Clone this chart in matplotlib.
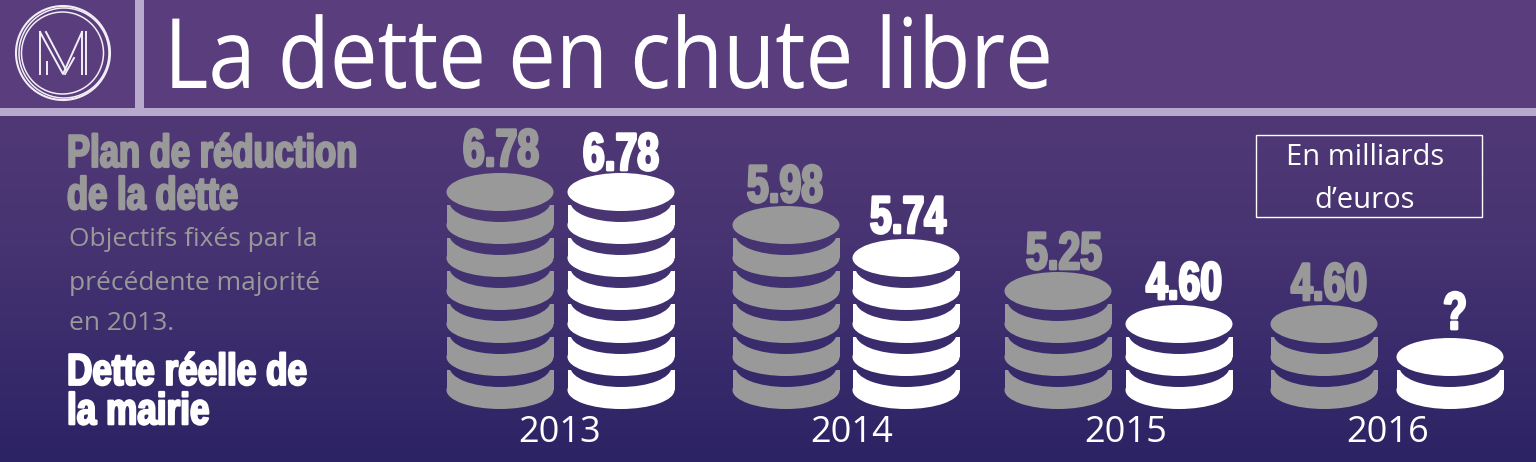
import numpy as np
import matplotlib
matplotlib.use("Agg")
import matplotlib.pyplot as plt
from matplotlib.patches import Ellipse, Rectangle, Circle
from matplotlib.colors import LinearSegmentedColormap
from matplotlib.transforms import Affine2D
import matplotlib.patheffects as pe

years = ["2013", "2014", "2015", "2016"]
planned_labels = ["6.78", "5.98", "5.25", "4.60"]
actual_labels = ["6.78", "5.74", "4.60", "?"]
planned_layers = [6, 5, 3, 2]
actual_layers = [6, 4, 2, 1]

title = "La dette en chute libre"
unit_text = "En milliards\nd\u2019euros"
legend_planned = "Plan de réduction\nde la dette"
legend_sub = ["Objectifs fixés par la", "précédente majorité", "en 2013."]
legend_actual = "Dette réelle de\nla mairie"

GRAY = "#999999"
WHITE = "#ffffff"
LILAC = "#b8aacd"
SANS = "Open Sans"
HEAVY = "Liberation Sans"


class Condensed(pe.AbstractPathEffect):
    """Draw text narrower (and optionally emboldened) about a fixed x anchor."""

    def __init__(self, sx, anchor_x, width=0.0, color=None):
        super().__init__()
        self.sx, self.anchor_x, self.width, self.color = sx, anchor_x, width, color

    def draw_path(self, renderer, gc, tpath, affine, rgbFace=None):
        tr = affine + Affine2D().translate(-self.anchor_x, 0).scale(self.sx, 1).translate(self.anchor_x, 0)
        gc0 = renderer.new_gc()
        gc0.copy_properties(gc)
        if self.width > 0:
            gc0.set_foreground(self.color)
            gc0.set_linewidth(self.width)
        else:
            gc0.set_linewidth(0)
        renderer.draw_path(gc0, tpath, tr, rgbFace)
        gc0.restore()


fig = plt.figure(figsize=(15.36, 4.62), dpi=100)
ax = fig.add_axes([0, 0, 1, 1])

cmap = LinearSegmentedColormap.from_list("bg", ["#503875", "#483472", "#3a2c6c", "#2c2364"])
ax.imshow(np.linspace(0, 1, 256)[:, None], cmap=cmap, extent=(0, 1536, 462, 116), aspect="auto", zorder=0)
ax.set_xlim(0, 1536)
ax.set_ylim(462, 0)
ax.axis("off")
ax.add_patch(Rectangle((0, 0), 1536, 108, color="#5a3d7c", lw=0, zorder=1))
ax.add_patch(Rectangle((0, 108), 1536, 8, color=LILAC, lw=0, zorder=2))
ax.add_patch(Rectangle((135, 0), 9, 108, color=LILAC, lw=0, zorder=2))

# logo
for r, dx, lw in [(47, 0, 1.5), (45, 1, 1.1), (41, -0.5, 1.1)]:
    ax.add_patch(Circle((63 + dx, 53), r, fill=False, ec="#f2eef6", lw=lw, zorder=3))
for xs, ys in [([40, 40], [32, 74]), ([40, 63, 82], [32, 74, 32]), ([46, 66], [32, 70]),
               ([82, 82], [32, 74]), ([86, 86], [32, 74]), ([47, 47], [62, 74]), ([65, 74], [74, 58])]:
    ax.plot(xs, ys, color="#f2eef6", lw=1.4, zorder=3)

ax.text(164, 88, title, color="white", family=SANS, fontsize=70, va="baseline", ha="left", zorder=4,
        path_effects=[Condensed(0.875, 164)])

# legend text
ax.text(67, 176, legend_planned, color=GRAY, family=HEAVY, weight="bold", fontsize=33,
        va="center", linespacing=0.95, zorder=4, path_effects=[Condensed(0.755, 67, 1.6, GRAY)])
for line, y in zip(legend_sub, [240, 283, 323]):
    ax.text(69, y, line, color=GRAY, family=SANS, fontsize=19, va="center", zorder=4)
ax.text(67, 393, legend_actual, color=WHITE, family=HEAVY, weight="bold", fontsize=32,
        va="center", linespacing=0.95, zorder=4, path_effects=[Condensed(0.79, 67, 1.6, WHITE)])

# unit box
ax.add_patch(Rectangle((1255.5, 134.5), 226, 82, fill=False, ec="white", lw=1, zorder=3))
ax.text(1365, 179, unit_text, color="white", family=SANS, fontsize=21, ha="center", va="center",
        linespacing=1.65, zorder=4)

# coin stacks
BASE_Y = 390
PITCH = 33
W, H = 107, 38


def stack(xc, layers, color, label, label_x, gap):
    z = 5
    for i in range(layers):
        yc = BASE_Y - i * PITCH
        ax.add_patch(Ellipse((xc, yc), W, H, color=color, lw=0, zorder=z))
        ax.add_patch(Rectangle((xc - W / 2, yc - 20), W, 20, color=color, lw=0, zorder=z))
        frac = (yc - 22 - 116) / (462 - 116)
        groove = cmap(np.clip(frac + 0.03, 0, 1))
        ax.add_patch(Ellipse((xc, yc - 23), W - 6, H + 2, color=groove, lw=0, zorder=z + 0.1))
        z += 0.2
    top = BASE_Y - layers * PITCH
    ax.add_patch(Ellipse((xc, top), W, H, color=color, lw=0, zorder=z))
    ax.text(label_x, top - H / 2 - gap, label, color=color, family=HEAVY, weight="bold", fontsize=38,
            ha="center", va="baseline", zorder=z,
            path_effects=[Condensed(0.74, label_x, 2.0, color)])


group_x = [(500, 621), (786, 906), (1058, 1179), (1324, 1450)]
planned_label_x = [501, 785, 1064, 1329]
actual_label_x = [621, 908, 1184, 1455]
planned_gaps = [7, 4, 3, 5]
actual_gaps = [3, 6, 6, 9]
year_x = [560, 852, 1126, 1388]
for k, (xp, xa) in enumerate(group_x):
    stack(xp, planned_layers[k], GRAY, planned_labels[k], planned_label_x[k], planned_gaps[k])
    stack(xa, actual_layers[k], WHITE, actual_labels[k], actual_label_x[k], actual_gaps[k])
    ax.text(year_x[k], 433, years[k], color="white", family=SANS, fontsize=26, ha="center",
            va="center", zorder=6)

fig.savefig("out.png", dpi=100)
